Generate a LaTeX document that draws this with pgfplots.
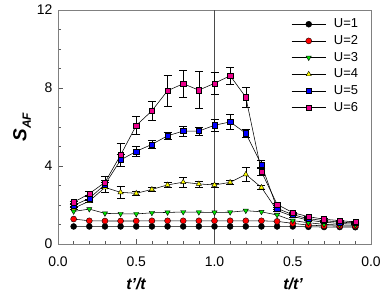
\documentclass[border=0pt]{standalone}
\usepackage{pgfplots}
\pgfplotsset{compat=1.18}
\usepackage{pgfplotstable}
\usepackage{fontspec}
\setmainfont{Liberation Sans}
\definecolor{myyellow}{RGB}{255,255,0}
\definecolor{mygreen}{RGB}{0,230,0}

\pgfplotstableread{
x y e
0.1 0.90 0
0.2 0.90 0
0.3 0.90 0
0.4 0.90 0
0.5 0.90 0
0.6 0.90 0
0.7 0.90 0
0.8 0.90 0
0.9 0.90 0
1.0 0.90 0
1.1 0.90 0
1.2 0.90 0
1.3 0.90 0
1.4 0.90 0
1.5 0.90 0
1.6 0.88 0
1.7 0.87 0
1.8 0.87 0
1.9 0.86 0
}\Uone
\pgfplotstableread{
x y e
0.1 1.28 0
0.2 1.19 0
0.3 1.18 0
0.4 1.18 0
0.5 1.18 0
0.6 1.19 0
0.7 1.19 0
0.8 1.19 0
0.9 1.19 0
1.0 1.19 0
1.1 1.19 0
1.2 1.19 0
1.3 1.19 0
1.4 1.16 0
1.5 1.06 0
1.6 0.97 0
1.7 0.93 0
1.8 0.92 0
1.9 0.92 0
}\Utwo
\pgfplotstableread{
x y e
0.1 1.67 0.03
0.2 1.79 0.03
0.3 1.57 0.03
0.4 1.55 0.03
0.5 1.54 0.03
0.6 1.60 0.03
0.7 1.62 0.03
0.8 1.64 0.03
0.9 1.63 0.03
1.0 1.62 0.03
1.1 1.63 0.03
1.2 1.71 0.03
1.3 1.65 0.03
1.4 1.49 0.03
1.5 1.20 0.03
1.6 1.09 0.03
1.7 1.01 0.03
1.8 0.97 0.03
1.9 0.96 0.03
}\Uthree
\pgfplotstableread{
x y e
0.1 1.83 0.05
0.2 2.20 0.08
0.3 2.90 0.25
0.4 2.65 0.32
0.5 2.60 0.10
0.6 2.80 0.10
0.7 3.03 0.12
0.8 3.17 0.24
0.9 3.08 0.15
1.0 3.03 0.10
1.1 3.16 0.12
1.2 3.57 0.34
1.3 2.90 0.10
1.4 1.72 0.05
1.5 1.42 0.04
1.6 1.22 0.03
1.7 1.12 0.03
1.8 1.05 0.03
1.9 1.02 0.03
}\Ufour
\pgfplotstableread{
x y e
0.1 1.98 0.05
0.2 2.34 0.10
0.3 3.05 0.20
0.4 4.31 0.30
0.5 4.75 0.24
0.6 5.11 0.20
0.7 5.55 0.20
0.8 5.79 0.25
0.9 5.79 0.20
1.0 6.09 0.32
1.1 6.26 0.37
1.2 5.68 0.22
1.3 4.07 0.20
1.4 1.83 0.05
1.5 1.50 0.04
1.6 1.30 0.03
1.7 1.20 0.03
1.8 1.12 0.03
1.9 1.08 0.03
}\Ufive
\pgfplotstableread{
x y e
0.1 2.14 0.05
0.2 2.58 0.10
0.3 3.16 0.30
0.4 4.56 0.60
0.5 6.08 0.47
0.6 6.83 0.50
0.7 7.86 0.80
0.8 8.22 0.68
0.9 7.89 0.95
1.0 8.24 0.55
1.1 8.63 0.45
1.2 7.53 0.53
1.3 3.71 0.20
1.4 2.03 0.05
1.5 1.61 0.04
1.6 1.40 0.03
1.7 1.27 0.03
1.8 1.20 0.03
1.9 1.13 0.03
}\Usix

\begin{document}
\begin{tikzpicture}
\useasboundingbox (-58bp,-56bp) rectangle (324bp,244bp);
\begin{axis}[
  at={(0,0)}, anchor=south west,
  scale only axis, width=313bp, height=234bp,
  xmin=0, xmax=2, ymin=0, ymax=12,
  xtick={0,0.5,1,1.5,2},
  xticklabels={0.0,0.5,1.0,0.5,0.0},
  ytick={0,4,8,12},
  minor xtick={0,0.1,...,2},
  minor ytick={1,2,3,5,6,7,9,10,11},
  tick align=inside,
  xtick pos=bottom, ytick pos=left,
  major tick length=5bp, minor tick length=3bp,
  axis line style={gray, line width=0.8pt},
  every tick/.style={gray!70!black, line width=0.5pt},
  /pgf/number format/assume math mode=true,
  ticklabel style={font=\fontsize{14}{15}\selectfont},
  xticklabel style={yshift=-9bp},
  yticklabel style={xshift=-2bp},
  ylabel={\bfseries\itshape S\raisebox{-0.45ex}{\fontsize{12}{12}\selectfont AF}},
  ylabel style={at={(axis description cs:-0.115,0.5)}, anchor=center, font=\fontsize{19}{20}\selectfont},
  legend style={draw=none, fill=none, at={(axis description cs:0.742,0.975)}, anchor=north west,
    font=\fontsize{13}{13}\selectfont, row sep=2.2bp, inner sep=1bp},
  legend cell align=left,
  legend image code/.code={\draw[mark repeat=2,mark phase=2] plot coordinates {(0bp,0bp)(17bp,0bp)(34bp,0bp)};\path (40bp,0bp);},
  every axis plot/.append style={line width=0.55pt},
  error bars/error bar style={black, line width=0.6pt},
  error bars/error mark options={rotate=90, mark size=4bp, line width=0.6pt, black},
]
\addplot[gray!60!black, line width=0.6pt, forget plot] coordinates {(1,0) (1,12)};
\addplot[black, mark=*, mark size=3bp, mark options={fill=black, draw=black, line width=0.4pt}] table[x=x,y=y] {\Uone};
\addlegendentry{U=1}
\addplot[black, mark=*, mark size=3bp, mark options={fill=red, draw=black, line width=0.4pt}] table[x=x,y=y] {\Utwo};
\addlegendentry{U=2}
\addplot[black, mark=triangle*, mark size=3bp, mark options={fill=mygreen, draw=black, rotate=180, line width=0.4pt}] table[x=x,y=y] {\Uthree};
\addlegendentry{U=3}
\addplot[black, mark=triangle*, mark size=3bp, mark options={fill=myyellow, draw=black, line width=0.4pt},
  error bars/.cd, y dir=both, y explicit] table[x=x,y=y,y error=e] {\Ufour};
\addlegendentry{U=4}
\addplot[black, mark=square*, mark size=2.6bp, mark options={fill=blue, draw=black, line width=0.4pt},
  error bars/.cd, y dir=both, y explicit] table[x=x,y=y,y error=e] {\Ufive};
\addlegendentry{U=5}
\addplot[black, mark=square*, mark size=2.6bp, mark options={fill=magenta, draw=black, line width=0.4pt},
  error bars/.cd, y dir=both, y explicit] table[x=x,y=y,y error=e] {\Usix};
\addlegendentry{U=6}
\end{axis}
\node[font=\bfseries\itshape\fontsize{16}{17}\selectfont] at (78bp,-40bp) {t'/t};
\node[font=\bfseries\itshape\fontsize{16}{17}\selectfont] at (235bp,-40bp) {t/t'};
\end{tikzpicture}
\end{document}
